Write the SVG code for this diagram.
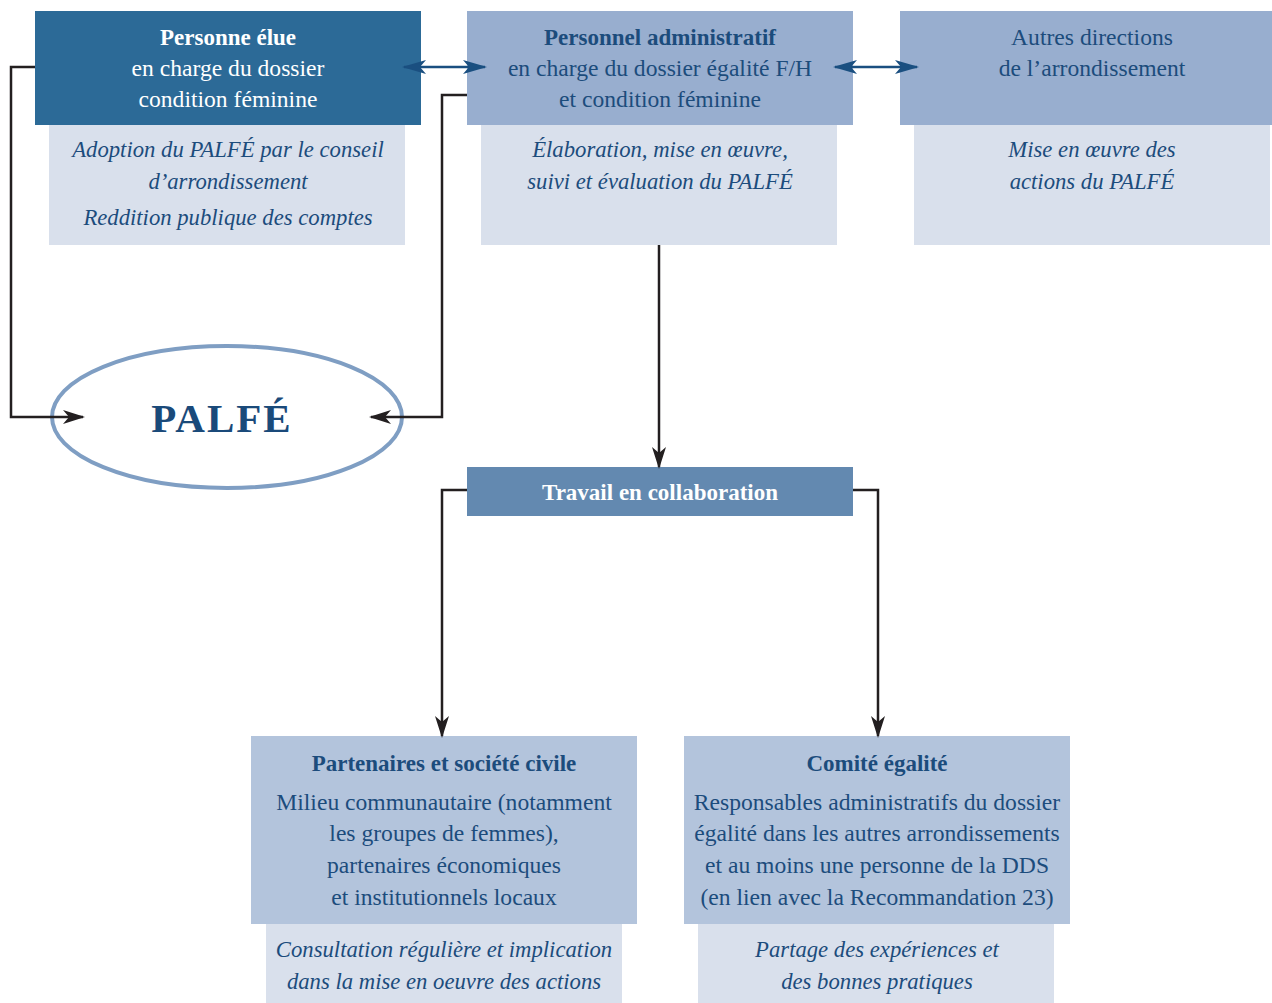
<svg xmlns="http://www.w3.org/2000/svg" width="1272" height="1003" viewBox="0 0 1272 1003">
<defs>
<style>
text{font-family:"Liberation Serif","DejaVu Serif",serif;text-anchor:middle;font-size:23.6px;fill:#1c4c7c}
.w{fill:#fff}
.b{font-weight:bold;font-size:23px}
.i{font-style:italic;font-size:22.7px}
.con{fill:none;stroke:#231f20;stroke-width:2.5}
.dbl{fill:none;stroke:#1a4f80;stroke-width:2.5}
</style>
<marker id="ah" viewBox="0 0 22 14" refX="20" refY="7" markerWidth="22" markerHeight="14" markerUnits="userSpaceOnUse" orient="auto">
<path d="M0,0 L22,7 L0,14 L6,7 Z" fill="#231f20"/>
</marker>
<marker id="bh" viewBox="0 0 24 14" refX="22" refY="7" markerWidth="24" markerHeight="14" markerUnits="userSpaceOnUse" orient="auto-start-reverse">
<path d="M0,0 L24,7 L0,14 L6,7 Z" fill="#1a4f80"/>
</marker>
</defs>
<rect width="1272" height="1003" fill="#fff"/>
<g id="node-elue">
<rect x="49" y="125" width="356" height="120" fill="#d9e0ec"/>
<rect x="35" y="11" width="386" height="114" fill="#2c6a97"/>
<text x="228" y="45" class="w b">Personne élue</text>
<text x="228" y="76" class="w">en charge du dossier</text>
<text x="228" y="107" class="w">condition féminine</text>
<text x="228" y="157" class="i">Adoption du PALFÉ par le conseil</text>
<text x="228" y="189" class="i">d’arrondissement</text>
<text x="228" y="225" class="i">Reddition publique des comptes</text>
</g>
<g id="node-personnel">
<rect x="481" y="125" width="356" height="120" fill="#d9e0ec"/>
<rect x="467" y="11" width="386" height="114" fill="#98aecf"/>
<text x="660" y="45" class="b">Personnel administratif</text>
<text x="660" y="76">en charge du dossier égalité F/H</text>
<text x="660" y="107">et condition féminine</text>
<text x="660" y="157" class="i">Élaboration, mise en œuvre,</text>
<text x="660" y="189" class="i">suivi et évaluation du PALFÉ</text>
</g>
<g id="node-autres">
<rect x="914" y="125" width="356" height="120" fill="#d9e0ec"/>
<rect x="900" y="11" width="372" height="114" fill="#98aecf"/>
<text x="1092" y="45">Autres directions</text>
<text x="1092" y="76">de l’arrondissement</text>
<text x="1092" y="157" class="i">Mise en œuvre des</text>
<text x="1092" y="189" class="i">actions du PALFÉ</text>
</g>
<g id="node-palfe">
<ellipse cx="227" cy="417" rx="175" ry="71" fill="#fff" stroke="#7f9ec3" stroke-width="4"/>
<text x="222" y="432" class="b" style="font-size:41px;letter-spacing:2px;fill:#1a4a7a">PALFÉ</text>
</g>
<g id="node-travail">
<rect x="467" y="467" width="386" height="49" fill="#6389b0"/>
<text x="660" y="500" class="w b">Travail en collaboration</text>
</g>
<g id="node-partenaires">
<rect x="266" y="924" width="356" height="79" fill="#d9e0ec"/>
<rect x="251" y="736" width="386" height="188" fill="#b3c4dc"/>
<text x="444" y="771" class="b">Partenaires et société civile</text>
<text x="444" y="810">Milieu communautaire (notamment</text>
<text x="444" y="841">les groupes de femmes),</text>
<text x="444" y="873">partenaires économiques</text>
<text x="444" y="905">et institutionnels locaux</text>
<text x="444" y="957" class="i">Consultation régulière et implication</text>
<text x="444" y="989" class="i">dans la mise en oeuvre des actions</text>
</g>
<g id="node-comite">
<rect x="698" y="924" width="356" height="79" fill="#d9e0ec"/>
<rect x="684" y="736" width="386" height="188" fill="#b3c4dc"/>
<text x="877" y="771" class="b">Comité égalité</text>
<text x="877" y="810">Responsables administratifs du dossier</text>
<text x="877" y="841">égalité dans les autres arrondissements</text>
<text x="877" y="873">et au moins une personne de la DDS</text>
<text x="877" y="905">(en lien avec la Recommandation 23)</text>
<text x="877" y="957" class="i">Partage des expériences et</text>
<text x="877" y="989" class="i">des bonnes pratiques</text>
</g>
<g id="connectors">
<polyline class="con" points="35,67 11,67 11,417 83,417" marker-end="url(#ah)"/>
<polyline class="con" points="467,95 442,95 442,417 371,417" marker-end="url(#ah)"/>
<line class="con" x1="659" y1="245" x2="659" y2="467" marker-end="url(#ah)"/>
<polyline class="con" points="467,490 442,490 442,736" marker-end="url(#ah)"/>
<polyline class="con" points="853,490 878,490 878,736" marker-end="url(#ah)"/>
<line class="dbl" x1="404" y1="67" x2="485" y2="67" marker-start="url(#bh)" marker-end="url(#bh)"/>
<line class="dbl" x1="835" y1="67" x2="917" y2="67" marker-start="url(#bh)" marker-end="url(#bh)"/>
</g>
</svg>
